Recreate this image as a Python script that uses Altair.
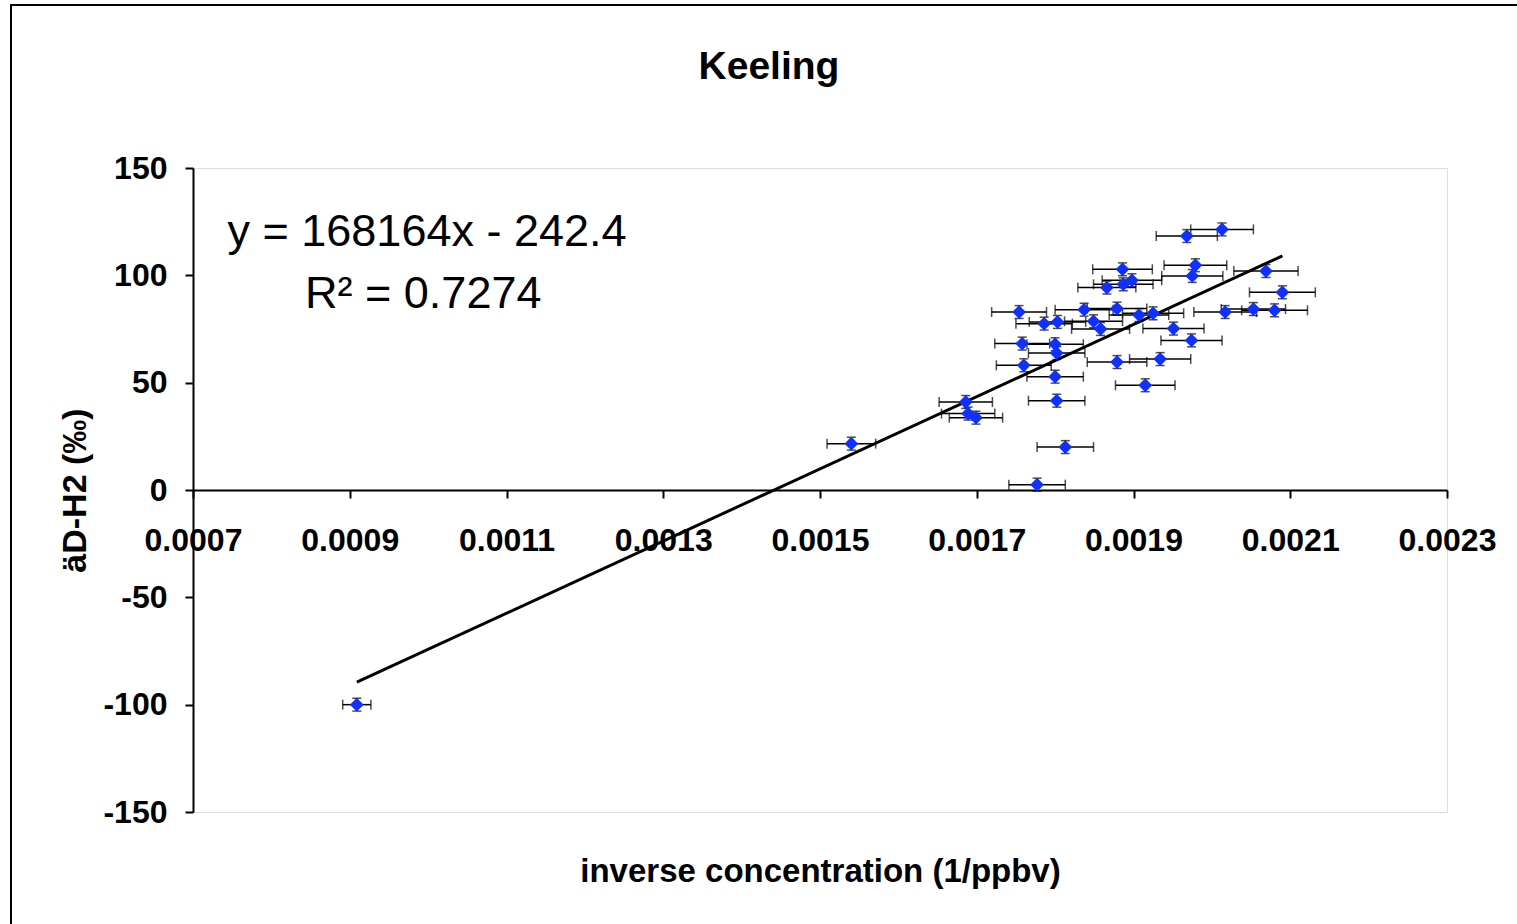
import altair as alt
import pandas as pd

# inverse H2 concentration (1/ppbv) and deuterium signature (permil)
inv_conc = [
    0.002013, 0.001968, 0.001886, 0.001979, 0.001975, 0.002069, 0.001898, 0.001887,
    0.001866, 0.002090, 0.001754, 0.001837, 0.001879, 0.002017, 0.002053, 0.002080,
    0.001907, 0.001925, 0.001786, 0.001803, 0.001849, 0.001858, 0.001951, 0.001974,
    0.001758, 0.001800, 0.001802, 0.001760, 0.001879, 0.001934, 0.001800, 0.001915,
    0.001802, 0.001540, 0.001686, 0.001689, 0.001699, 0.001813, 0.001777, 0.000909,
]
delta_d = [
    121.4, 118.3, 102.8, 104.7, 99.7, 102.0, 97.7, 95.8,
    94.3, 92.1, 82.9, 84.0, 84.5, 82.9, 84.3, 83.7,
    81.5, 82.3, 77.5, 78.3, 78.6, 75.0, 75.2, 69.7,
    68.2, 67.9, 63.8, 58.1, 59.6, 61.0, 52.8, 48.8,
    41.6, 21.6, 41.0, 35.6, 33.7, 20.0, 2.5, -100.0,
]
# half-width of the concentration error bars (1/ppbv)
inv_conc_err = [
    4.0e-5, 3.9e-5, 3.8e-5, 4.0e-5, 3.9e-5, 4.1e-5, 3.8e-5, 3.8e-5,
    3.7e-5, 4.2e-5, 3.5e-5, 3.7e-5, 3.8e-5, 4.0e-5, 4.1e-5, 4.2e-5,
    3.8e-5, 3.9e-5, 3.6e-5, 3.6e-5, 3.7e-5, 3.7e-5, 3.9e-5, 3.9e-5,
    3.5e-5, 3.6e-5, 3.6e-5, 3.5e-5, 3.8e-5, 3.9e-5, 3.6e-5, 3.8e-5,
    3.6e-5, 3.1e-5, 3.4e-5, 3.4e-5, 3.4e-5, 3.6e-5, 3.6e-5, 1.8e-5,
]
# half-height of the isotope error bars (permil)
delta_err = [3.0] * len(delta_d)

# least-squares fit shown on the chart
slope = 168164
intercept = -242.4
r_squared = 0.7274

x_ticks = [0.0007, 0.0009, 0.0011, 0.0013, 0.0015, 0.0017, 0.0019, 0.0021, 0.0023]
y_ticks = [-150, -100, -50, 0, 50, 100, 150]

FONT = "Liberation Sans"
W, H = 1254, 644

df = pd.DataFrame({"x": inv_conc, "y": delta_d, "xe": inv_conc_err, "ye": delta_err})
df["x_lo"] = df["x"] - df["xe"]
df["x_hi"] = df["x"] + df["xe"]
df["y_lo"] = df["y"] - df["ye"]
df["y_hi"] = df["y"] + df["ye"]

fit_x = [min(inv_conc), max(inv_conc)]
fit = pd.DataFrame({"x": fit_x, "y": [slope * v + intercept for v in fit_x]})

sign = "-" if intercept < 0 else "+"
eq = pd.DataFrame({
    "x": [0.000744, 0.000843],
    "y": [113.5, 84.6],
    "label": [f"y = {slope}x {sign} {abs(intercept)}", f"R\u00b2 = {r_squared}"],
})

x_scale = alt.Scale(domain=[0.0007, 0.0023], nice=False, zero=False)
y_scale = alt.Scale(domain=[-150, 150], nice=False)

x_axis = alt.Axis(
    values=x_ticks, format=".4f", offset=-322,
    labelFont=FONT, labelFontSize=32, labelFontWeight="bold", labelColor="black",
    labelPadding=27, labelFlush=False, labelOverlap=False,
    domainColor="black", domainWidth=2, tickColor="black", tickWidth=2, tickSize=8,
    grid=False,
    title="inverse concentration (1/ppbv)", titleFont=FONT, titleFontSize=33,
    titleFontWeight="bold", titleColor="black", titleY=381, titleBaseline="middle",
)
y_axis = alt.Axis(
    values=y_ticks, labelExpr="'' + datum.value",
    labelFont=FONT, labelFontSize=32, labelFontWeight="bold", labelColor="black",
    labelPadding=18, labelFlush=False, labelOverlap=False,
    domainColor="black", domainWidth=2, tickColor="black", tickWidth=2, tickSize=8,
    grid=False,
    title="\u00e4D-H2 (\u2030)", titleFont=FONT, titleFontSize=34,
    titleFontWeight="bold", titleColor="black",
    titleX=-118, titleY=H / 2, titleAngle=270, titleBaseline="middle", titleAlign="center",
)


def xq(field):
    return alt.X(field, type="quantitative", scale=x_scale, axis=x_axis)


def yq(field):
    return alt.Y(field, type="quantitative", scale=y_scale, axis=y_axis)


base = alt.Chart(df)

# outer chart border
frame = alt.Chart(pd.DataFrame({"k": [0]})).mark_rect(
    fill=None, stroke="black", strokeWidth=2
).encode(
    x=alt.value(-182), x2=alt.value(1600), y=alt.value(-163), y2=alt.value(900)
)

x_bars = base.mark_rule(color="black", strokeWidth=1.5).encode(
    x=xq("x_lo"), x2="x_hi", y=yq("y")
)
x_cap_lo = base.mark_tick(orient="vertical", color="black", size=10, thickness=1.5).encode(
    x=xq("x_lo"), y=yq("y")
)
x_cap_hi = base.mark_tick(orient="vertical", color="black", size=10, thickness=1.5).encode(
    x=xq("x_hi"), y=yq("y")
)
y_bars = base.mark_rule(color="black", strokeWidth=1.5).encode(
    x=xq("x"), y=yq("y_lo"), y2="y_hi"
)
y_cap_lo = base.mark_tick(orient="horizontal", color="black", size=9, thickness=1.5).encode(
    x=xq("x"), y=yq("y_lo")
)
y_cap_hi = base.mark_tick(orient="horizontal", color="black", size=9, thickness=1.5).encode(
    x=xq("x"), y=yq("y_hi")
)

fit_line = alt.Chart(fit).mark_line(color="black", strokeWidth=3).encode(
    x=xq("x"), y=yq("y")
)

points = base.mark_point(
    shape="diamond", filled=True, size=190, color="#1030ff", opacity=1
).encode(x=xq("x"), y=yq("y"))

eq_text = alt.Chart(eq).mark_text(
    align="left", baseline="alphabetic", font=FONT, fontSize=45, color="black"
).encode(x=xq("x"), y=yq("y"), text="label:N")

chart = alt.layer(
    frame, x_bars, x_cap_lo, x_cap_hi, y_bars, y_cap_lo, y_cap_hi, fit_line, points, eq_text
).properties(
    width=W, height=H,
    title=alt.TitleParams(
        "Keeling", font=FONT, fontSize=39, fontWeight="bold", color="black",
        anchor="middle", frame="group", dx=-51, offset=-83,
    ),
    autosize=alt.AutoSizeParams(type="none"),
    padding={"left": 193, "top": 168, "right": 70, "bottom": 112},
).configure_view(
    stroke="#999999", strokeWidth=2
).configure(background="white")

chart.save("out.html", embed_options={"renderer": "svg", "actions": False})
